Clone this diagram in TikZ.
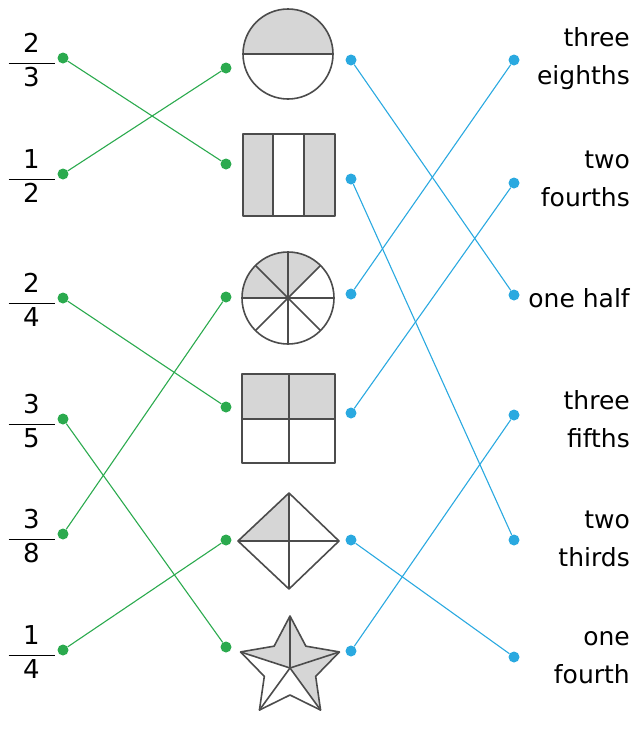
\documentclass[tikz,border=0pt]{standalone}
\usepackage{amsmath}
\usepackage{fontspec}
\setmainfont{DejaVu Sans}
\usepackage{xcolor}
\usetikzlibrary{positioning}

\definecolor{matchgreen}{HTML}{2BAA4E}
\definecolor{matchblue}{HTML}{2AA9E0}
\newcommand{\fracbox}[2]{$\genfrac{}{}{1pt}{0}{\makebox[46pt]{#1}}{\makebox[46pt]{#2}}$}

\begin{document}
\begin{tikzpicture}[
    x=1pt, y=-1pt,
    gdot/.style={circle, fill=matchgreen, inner sep=0pt, minimum size=11pt},
    bdot/.style={circle, fill=matchblue, inner sep=0pt, minimum size=11pt},
    gline/.style={draw=matchgreen, line width=1.1pt},
    bline/.style={draw=matchblue, line width=1.1pt},
    outline/.style={draw=black!70, line width=1.6pt, line join=round},
    shade/.style={fill=black!16},
    frac/.style={font=\fontsize{26}{30}\selectfont, inner sep=0pt},
    word/.style={font=\fontsize{25}{38}\selectfont, align=right, anchor=east, inner sep=0pt},
]
\useasboundingbox (0,0) rectangle (637,740);

% === FRACTIONS (left) ===
\node[frac] (f23) at (31.5,60) {\fracbox{2}{3}};
\node[frac] (f12) at (31.5,176) {\fracbox{1}{2}};
\node[frac] (f24) at (31.5,300) {\fracbox{2}{4}};
\node[frac] (f35) at (31.5,421) {\fracbox{3}{5}};
\node[frac] (f38) at (31.5,536) {\fracbox{3}{8}};
\node[frac] (f14) at (31.5,652) {\fracbox{1}{4}};

\node[gdot] (d23) at (63,58) {};
\node[gdot] (d12) at (63,174) {};
\node[gdot] (d24) at (63,298) {};
\node[gdot] (d35) at (63,419) {};
\node[gdot] (d38) at (63,534) {};
\node[gdot] (d14) at (63,650) {};

% === WORDS (right) ===
\node[word] (wthreeeighths) at (630,59) {three\\eighths};
\node[word] (wtwofourths) at (630,179) {two\\fourths};
\node[word] (wonehalf) at (630,298) {one half};
\node[word] (wthreefifths) at (630,419) {three\\fifths};
\node[word] (wtwothirds) at (630,539) {two\\thirds};
\node[word] (wonefourth) at (630,658) {one\\fourth};

\node[bdot] (e38) at (514,60) {};
\node[bdot] (e24) at (514,183) {};
\node[bdot] (e12) at (514,295) {};
\node[bdot] (e35) at (514,415) {};
\node[bdot] (e23) at (514,540) {};
\node[bdot] (e14) at (514,657) {};

% === SHAPES ===
% half circle
\fill[shade] (333,54) arc[start angle=0, end angle=-180, radius=45] -- cycle;
\draw[outline] (288,54) circle[radius=45];
\draw[outline] (243,54) -- (333,54);
\node[gdot] (circL) at (226,68) {};
\node[bdot] (circR) at (351,60) {};

% three strips
\fill[shade] (243,134) rectangle (273,216);
\fill[shade] (304,134) rectangle (335,216);
\draw[outline] (243,134) rectangle (335,216);
\draw[outline] (273,134) -- (273,216);
\draw[outline] (304,134) -- (304,216);
\node[gdot] (rectL) at (226,164) {};
\node[bdot] (rectR) at (351,179) {};

% eighths circle
\fill[shade] (288,298) -- ++(-45:46) arc[start angle=-45, end angle=-180, radius=46] -- cycle;
\draw[outline] (288,298) circle[radius=46];
\foreach \a in {0,45,90,135}
  \draw[outline] (288,298) ++(\a:46) -- ++(\a+180:92);
\node[gdot] (eighL) at (226,297) {};
\node[bdot] (eighR) at (351,294) {};

% quarters square
\fill[shade] (242,374) rectangle (335,419);
\draw[outline] (242,374) rectangle (335,463);
\draw[outline] (289,374) -- (289,463);
\draw[outline] (242,419) -- (335,419);
\node[gdot] (sqL) at (226,407) {};
\node[bdot] (sqR) at (351,413) {};

% diamond
\fill[shade] (289,493) -- (289,541) -- (238,541) -- cycle;
\draw[outline] (289,493) -- (339,541) -- (289,589) -- (238,541) -- cycle;
\draw[outline] (289,493) -- (289,589);
\draw[outline] (238,541) -- (339,541);
\node[gdot] (diaL) at (226,540) {};
\node[bdot] (diaR) at (351,540) {};

% star
\coordinate (sc) at (290,668);
\foreach \i in {0,...,4} {
  \path (sc) ++(-90+72*\i:52) coordinate (so\i);
  \path (sc) ++(-54+72*\i:27) coordinate (si\i);
}
\fill[shade] (sc) -- (so4) -- (si4) -- (so0) -- (si0) -- (so1) -- (si1) -- (so2) -- cycle;
\draw[outline] (so0) -- (si0) -- (so1) -- (si1) -- (so2) -- (si2) -- (so3) -- (si3) -- (so4) -- (si4) -- cycle;
\foreach \i in {0,...,4}
  \draw[outline] (sc) -- (so\i);
\node[gdot] (starL) at (226,647) {};
\node[bdot] (starR) at (351,651) {};

% === MATCHING LINES ===
\draw[gline] (d23) -- (rectL);
\draw[gline] (d12) -- (circL);
\draw[gline] (d24) -- (sqL);
\draw[gline] (d35) -- (starL);
\draw[gline] (d38) -- (eighL);
\draw[gline] (d14) -- (diaL);

\draw[bline] (circR) -- (e12);
\draw[bline] (rectR) -- (e23);
\draw[bline] (eighR) -- (e38);
\draw[bline] (sqR) -- (e24);
\draw[bline] (diaR) -- (e14);
\draw[bline] (starR) -- (e35);

\end{tikzpicture}
\end{document}
